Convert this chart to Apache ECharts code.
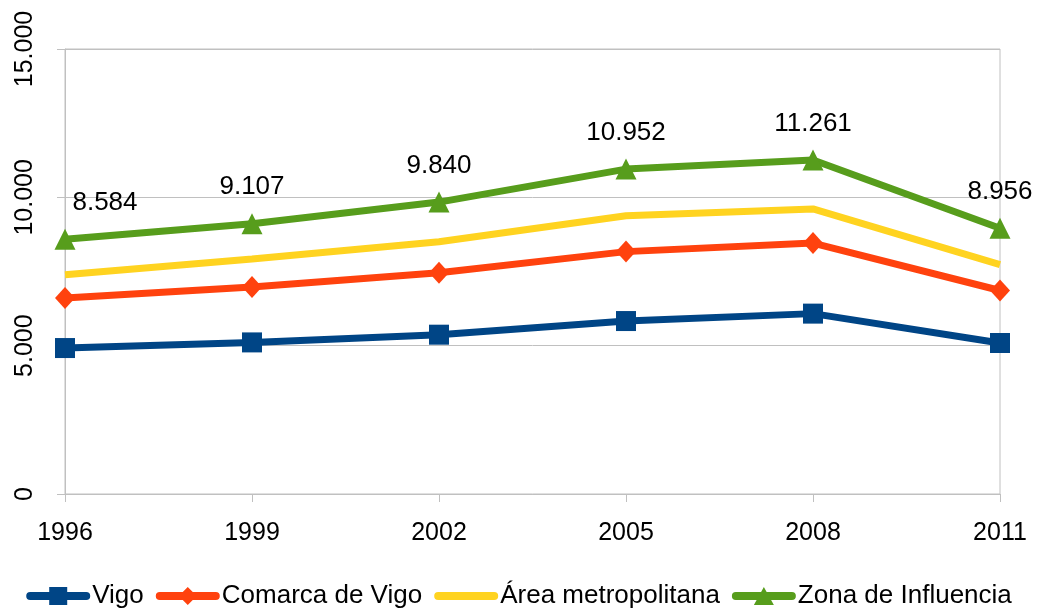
<!DOCTYPE html>
<html>
<head>
<meta charset="utf-8">
<script src="https://cdn.jsdelivr.net/npm/echarts@6/dist/echarts.min.js"></script>
<style>html,body{margin:0;padding:0;background:#fff;}#c{width:1038px;height:614px;}</style>
</head>
<body>
<div id="c"></div>
<script>
const categories = ['1996', '1999', '2002', '2005', '2008', '2011'];
const vigo = [4920, 5110, 5370, 5830, 6080, 5090];
const comarca = [6610, 6980, 7460, 8170, 8460, 6860];
const area = [7390, 7920, 8500, 9380, 9610, 7730];
const zona = [8584, 9107, 9840, 10952, 11261, 8956];

const FONT = '"Liberation Sans", Arial, sans-serif';
function fmt(v) { return String(v).replace(/\B(?=(\d{3})+(?!\d))/g, '.'); }

// legend icons: thick rounded line + marker, in a 64x18 box
const LINE = 'M4,5 L60,5 A4,4 0 0 1 60,13 L4,13 A4,4 0 0 1 4,5 Z';
const ICONS = {
  vigo: 'path://' + LINE + ' M23,0 L41,0 L41,18 L23,18 Z',
  comarca: 'path://' + LINE + ' M32,0 L41,9 L32,18 L23,9 Z',
  area: 'path://' + LINE + ' M32,0 L32,0 L32.01,0 Z M32,18 L32,18 L32.01,18 Z',
  zona: 'path://' + LINE + ' M32,0 L42,18 L22,18 Z'
};

const chart = echarts.init(document.getElementById('c'), null, { renderer: 'canvas' });
const zonaData = zona.map((v, i) => {
  const d = { value: v };
  if (i === 0) d.label = { offset: [40, 0] };
  return d;
});
chart.setOption({
  animation: false,
  textStyle: { fontFamily: FONT },
  grid: { left: 65, right: 38, top: 49, bottom: 120, show: true, borderColor: '#c0c0c0', borderWidth: 1, backgroundColor: 'transparent' },
  legend: {
    top: 583, left: 'center', padding: 0, itemWidth: 64, itemHeight: 18, itemGap: 12,
    textStyle: { fontFamily: FONT, fontSize: 26, color: '#000', padding: [0, 0, 0, -3] },
    data: [
      { name: 'Vigo', icon: ICONS.vigo },
      { name: 'Comarca de Vigo', icon: ICONS.comarca },
      { name: 'Área metropolitana', icon: ICONS.area },
      { name: 'Zona de Influencia', icon: ICONS.zona }
    ]
  },
  xAxis: {
    type: 'category', data: categories, boundaryGap: false,
    axisLine: { show: true, lineStyle: { color: '#c0c0c0', width: 1 } },
    axisTick: { show: true, length: 8, lineStyle: { color: '#c0c0c0' } },
    axisLabel: { fontFamily: FONT, fontSize: 25, color: '#000', margin: 27 },
    splitLine: { show: false }
  },
  yAxis: {
    type: 'value', min: 0, max: 15000, interval: 5000,
    axisLine: { show: true, lineStyle: { color: '#c0c0c0', width: 1 } },
    axisTick: { show: true, length: 8, lineStyle: { color: '#c0c0c0' } },
    axisLabel: { fontFamily: FONT, fontSize: 25, color: '#000', rotate: 90, margin: 27, formatter: v => fmt(v) },
    splitLine: { show: true, lineStyle: { color: '#c0c0c0', width: 1 } }
  },
  series: [
    { name: 'Vigo', type: 'line', data: vigo, symbol: 'rect', symbolSize: 20, lineStyle: { width: 7, color: '#004586' }, itemStyle: { color: '#004586' } },
    { name: 'Comarca de Vigo', type: 'line', data: comarca, symbol: 'diamond', symbolSize: [20, 22], lineStyle: { width: 7, color: '#ff420e' }, itemStyle: { color: '#ff420e' } },
    { name: 'Área metropolitana', type: 'line', data: area, symbol: 'none', lineStyle: { width: 7, color: '#ffd320' }, itemStyle: { color: '#ffd320' } },
    { name: 'Zona de Influencia', type: 'line', data: zonaData, symbol: 'triangle', symbolSize: 21, lineStyle: { width: 7, color: '#579d1c' }, itemStyle: { color: '#579d1c' },
      label: { show: true, position: 'top', distance: 13, fontFamily: FONT, fontSize: 26, color: '#000', formatter: p => fmt(p.value) } }
  ]
});
</script>
</body>
</html>
